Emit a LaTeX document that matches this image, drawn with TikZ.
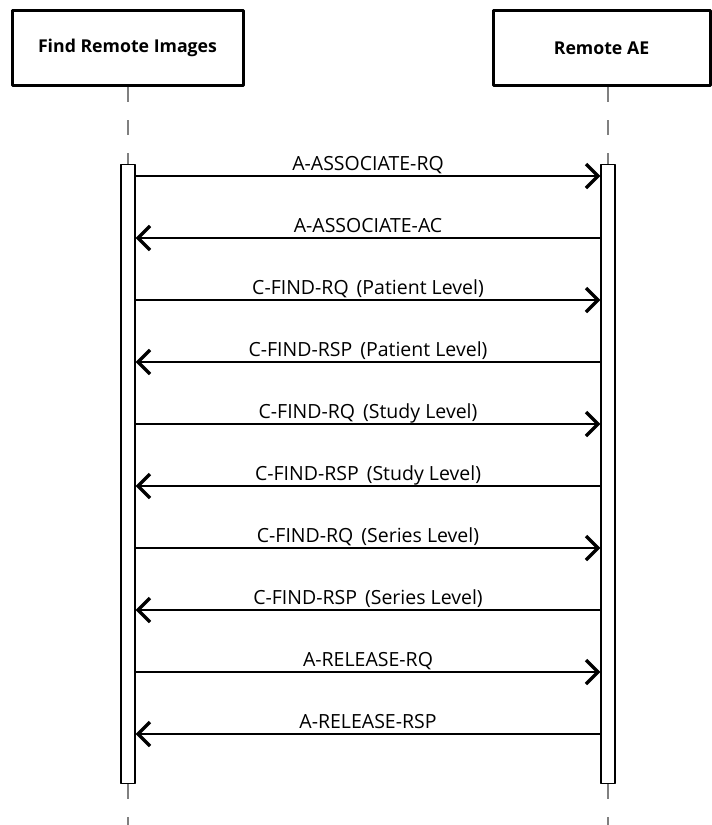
\documentclass[tikz,border=0pt]{standalone}
\usepackage{fontspec}
\setmainfont{Open Sans}
\usetikzlibrary{arrows.meta}
\newcommand{\gapsp}{\ \hspace{0.15em}}
\tikzset{
  actor/.style={draw,line width=3pt,minimum height=75pt,font=\fontsize{17.7}{20}\selectfont\bfseries},
  lifeline/.style={draw=gray,line width=1.6pt,dash pattern=on 15pt off 18pt},
  actbar/.style={draw,line width=1.2pt,fill=white,minimum width=14pt,minimum height=619pt,anchor=north,inner sep=0pt},
  msg/.style={line width=2.4pt,-{Straight Barb[length=12pt,width=24pt,line width=3.4pt]}},
  msglabel/.style={above,inner sep=1pt,text depth=3pt}
}
\begin{document}
\begin{tikzpicture}[x=1pt,y=-1pt,line join=round,font=\fontsize{19.5}{22}\selectfont]
	\useasboundingbox (0,0) rectangle (712,825);
	% actors
	\node[actor,minimum width=231pt] (find) at (127.5,48) {Find Remote Images};
	\node[actor,minimum width=217pt] (remote) at (601.5,48) {Remote AE};
	% activation bars
	\node[actbar] (barL) at (128,164) {};
	\node[actbar] (barR) at (608,164) {};
	\coordinate (endL) at (128,825);
	\coordinate (endR) at (608,825);
	% life lines
	\draw[lifeline] (barL.north |- find.south) -- (barL.north);
	\draw[lifeline] (barR.north |- remote.south) -- (barR.north);
	\draw[lifeline] (barL.south) -- (endL);
	\draw[lifeline] (barR.south) -- (endR);
	% messages
	\foreach \i/\txt in {1/A-ASSOCIATE-RQ,2/A-ASSOCIATE-AC,
		3/C-FIND-RQ\gapsp(Patient Level),4/C-FIND-RSP\gapsp(Patient Level),
		5/C-FIND-RQ\gapsp(Study Level),6/C-FIND-RSP\gapsp(Study Level),
		7/C-FIND-RQ\gapsp(Series Level),8/C-FIND-RSP\gapsp(Series Level),
		9/A-RELEASE-RQ,10/A-RELEASE-RSP}{
		\pgfmathsetmacro\y{176+62*(\i-1)}
		\coordinate (l\i) at (barL.east |- 0,\y);
		\coordinate (r\i) at (barR.west |- 0,\y);
		\ifodd\i
			\draw[msg] (l\i) -- node[msglabel] (m\i) {\txt} (r\i);
		\else
			\draw[msg] (r\i) -- node[msglabel] (m\i) {\txt} (l\i);
		\fi
	}
\end{tikzpicture}
\end{document}
